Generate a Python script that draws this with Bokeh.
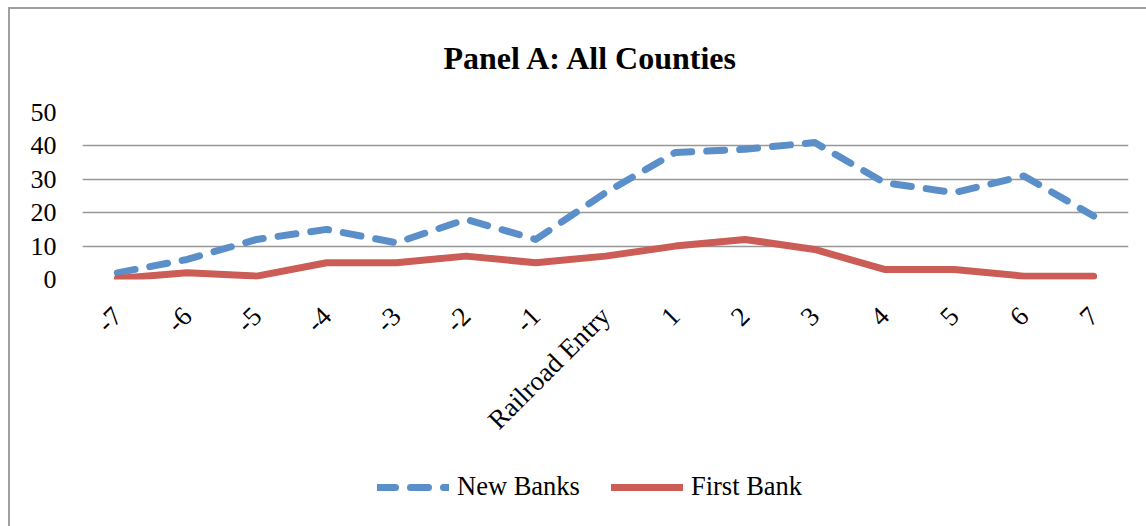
import math
from bokeh.plotting import figure
from bokeh.layouts import column
from bokeh.models import ColumnDataSource, Legend, LegendItem, Title
from bokeh.embed import file_html
from bokeh.resources import INLINE

categories = ["-7", "-6", "-5", "-4", "-3", "-2", "-1", "Railroad Entry",
              "1", "2", "3", "4", "5", "6", "7"]
new_banks = [2, 6, 12, 15, 11, 18, 12, 26, 38, 39, 41, 29, 26, 31, 19]
first_bank = [0.3, 2, 1, 5, 5, 7, 5, 7, 10, 12, 9, 3, 3, 1, 1]
y_ticks = [0, 10, 20, 30, 40, 50]
series_names = ["New Banks", "First Bank"]

FONT = "Liberation Serif"
BLUE = "#5b8fc9"
RED = "#cb5c56"
NB_STYLE = dict(line_color=BLUE, line_width=7, line_dash="18 15",
                line_cap="round", line_join="round")
FB_STYLE = dict(line_color=RED, line_width=7, line_cap="round", line_join="round")

src = ColumnDataSource(dict(x=categories, nb=new_banks, fb=first_bank))

MAIN_H = 456
LEG_H = 526 - MAIN_H

p = figure(width=1146, height=MAIN_H, x_range=categories, y_range=(0, 50),
           output_backend="svg", toolbar_location=None,
           min_border_left=82, min_border_right=18, min_border_top=111,
           min_border_bottom=MAIN_H - 279)
p.border_fill_color = None

t = Title(text="Panel A: All Counties", align="left", text_font=FONT,
          text_font_size="32px", text_font_style="bold", text_color="#000000",
          standoff=74, offset=361)
p.add_layout(t, "above")

r_nb = p.line("x", "nb", source=src, **NB_STYLE)
r_fb = p.line("x", "fb", source=src, **FB_STYLE)

p.outline_line_color = None
p.xgrid.grid_line_color = None
p.ygrid.grid_line_color = "#979797"
p.ygrid.grid_line_width = 1.6

p.yaxis.ticker = y_ticks
p.yaxis.axis_line_color = None
p.yaxis.major_tick_line_color = None
p.yaxis.minor_tick_line_color = None
p.yaxis.major_label_text_font = FONT
p.yaxis.major_label_text_font_size = "26px"
p.yaxis.major_label_text_color = "#000000"
p.yaxis.major_label_standoff = 20

p.xaxis.axis_line_color = None
p.xaxis.major_tick_line_color = None
p.xaxis.major_label_text_font = FONT
p.xaxis.major_label_text_font_size = "27px"
p.xaxis.major_label_text_color = "#000000"
p.xaxis.major_label_orientation = math.pi / 4
p.xaxis.major_label_standoff = 26

# legend strip below the chart (its lines fall outside its own y range,
# so only the legend swatches are visible)
q = figure(width=1146, height=LEG_H, x_range=p.x_range, y_range=(1000, 1001),
           output_backend="svg", toolbar_location=None,
           min_border=0, x_axis_type=None, y_axis_type=None)
q.border_fill_color = None
q.background_fill_color = None
q.outline_line_color = None
q.grid.visible = False
l_nb = q.line("x", "nb", source=src, **NB_STYLE)
l_fb = q.line("x", "fb", source=src, **FB_STYLE)

legend = Legend(items=[LegendItem(label=series_names[0], renderers=[l_nb]),
                       LegendItem(label=series_names[1], renderers=[l_fb])],
                location=(295, 24), orientation="horizontal",
                label_text_font=FONT, label_text_font_size="26.5px",
                label_text_color="#000000", glyph_width=72, glyph_height=20,
                label_standoff=8, spacing=31, border_line_color=None,
                background_fill_alpha=0, padding=5, margin=0)
q.add_layout(legend, "center")

layout = column(p, q, spacing=0)
layout.styles = {
    "background": "linear-gradient(#a0a0a0,#a0a0a0) 8px 7px / 2px 100% no-repeat, "
                  "linear-gradient(#a0a0a0,#a0a0a0) 8px 7px / 100% 2px no-repeat, #ffffff"
}

open("out.html", "w").write(file_html(layout, INLINE))
